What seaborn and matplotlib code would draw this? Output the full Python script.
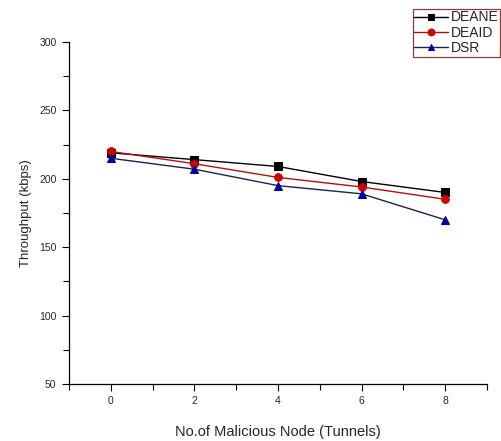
import matplotlib
matplotlib.use("Agg")
import matplotlib.pyplot as plt
import seaborn as sns
import pandas as pd
from matplotlib.ticker import MultipleLocator

nodes = [0, 2, 4, 6, 8]
deane = [219, 214, 209, 198, 190]
deaid = [220, 211, 201, 194, 185]
dsr = [215, 207, 195, 189, 170]
series_names = ["DEANE", "DEAID", "DSR"]

sns.set_style("white")
plt.rcParams['font.family'] = ['Liberation Sans', 'DejaVu Sans']

fig = plt.figure(figsize=(5.01, 4.41), dpi=100)
ax = fig.add_axes([0.1377, 0.1293, 0.8343, 0.7755])

styles = [
    (deane, "black", "s", "black"),
    (deaid, "#d00000", "o", "#b01010"),
    (dsr, "#0000a0", "^", "#202050"),
]
for name, (vals, mcol, mk, lcol) in zip(series_names, styles):
    df = pd.DataFrame({"x": nodes, "y": vals})
    sns.lineplot(data=df, x="x", y="y", ax=ax, color=lcol, marker=mk,
                 markersize=5.5, markerfacecolor=mcol, markeredgecolor=mcol,
                 linewidth=1.0, label=name)

ax.set_xlim(-1, 9)
ax.set_ylim(50, 300)
ax.xaxis.set_major_locator(MultipleLocator(2))
ax.xaxis.set_minor_locator(MultipleLocator(1))
ax.yaxis.set_major_locator(MultipleLocator(50))
ax.yaxis.set_minor_locator(MultipleLocator(25))
ax.tick_params(axis='both', which='major', direction='out', length=5, width=0.8,
               labelsize=7.5, color='black', left=True, bottom=True, pad=4)
ax.tick_params(axis='both', which='minor', direction='out', length=4, width=0.8,
               color='black', left=True, bottom=True)
for s in ["top", "right"]:
    ax.spines[s].set_visible(False)
for s in ["left", "bottom"]:
    ax.spines[s].set_color("black")
    ax.spines[s].set_linewidth(0.9)

ax.set_xlabel("No.of Malicious Node (Tunnels)", fontsize=10.5, labelpad=13)
ax.set_ylabel("Throughput (kbps)", fontsize=9.5, labelpad=5)

leg = ax.legend(loc="upper left", bbox_to_anchor=(413/501, 1 - 9/441),
                bbox_transform=fig.transFigure, fontsize=10, frameon=True,
                fancybox=False, framealpha=1, edgecolor="#8b3a3a",
                handlelength=2.4, handletextpad=0.2, borderpad=0.1,
                labelspacing=0.1, borderaxespad=0, markerscale=0.9)
leg.get_frame().set_linewidth(0.9)

fig.savefig("out.png", dpi=100)
